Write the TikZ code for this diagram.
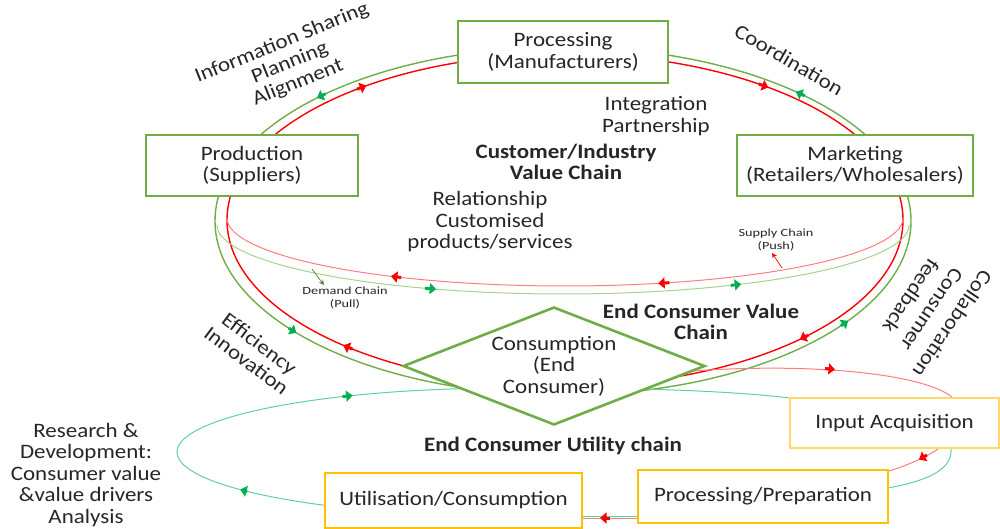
\documentclass[tikz,border=0pt]{standalone}
\usepackage{fontspec}
\setmainfont{Carlito}[FakeStretch=1.12]
\newfontfamily\smallf{Carlito}[FakeStretch=1.3]
\usetikzlibrary{arrows.meta,shapes.geometric}
\definecolor{gbox}{HTML}{70AD47}
\definecolor{ybox}{HTML}{FFC000}
\definecolor{ylight}{HTML}{FFD966}
\definecolor{redl}{HTML}{FF0000}
\definecolor{redpale}{HTML}{FF7C80}
\definecolor{greenpale}{HTML}{A9D18E}
\definecolor{mint}{HTML}{5ED29A}
\definecolor{gmark}{HTML}{00B050}
\definecolor{txt}{HTML}{262626}
\definecolor{olive}{HTML}{548235}
\begin{document}
\begin{tikzpicture}[x=1pt,y=-1pt,
  every node/.style={text=txt, font=\fontsize{20.5}{21.5}\selectfont, align=center},
  gbx/.style={draw=gbox, line width=2.6pt, fill=white, inner sep=0pt},
  ybx/.style={draw=ybox, line width=2.6pt, fill=white, inner sep=0pt},
  mk/.style={-{Triangle[length=6.5pt,width=11pt]}, line width=3pt},
  smallarr/.style={-{Stealth[length=5pt,width=5pt]}, line width=0.7pt},
  lbl/.style={inner sep=0pt},
  boldtxt/.style={font=\fontsize{20.5}{21.5}\selectfont\bfseries},
  tinytxt/.style={font=\smallf\fontsize{11}{13}\selectfont},
]
\useasboundingbox (0,0) rectangle (1000,528);

% main value-chain ellipses
\draw[gbox, line width=1.4pt] (563,221) ellipse [x radius=348, y radius=174];
\draw[redl, line width=1.4pt] (565,220) ellipse [x radius=338, y radius=166];

% inner lower arcs (supply / demand chain)
\draw[redpale, line width=1pt] plot[domain=180:360, samples=120] ({565+338*cos(\x)},{218-68*sin(\x)});
\draw[greenpale, line width=1pt] plot[domain=180:360, samples=120] ({563+346*cos(\x)},{225-69*sin(\x)});

% arrow markers on red ellipse (clockwise)
\draw[mk, redl] ({565+338*cos(128)},{220-166*sin(128)}) -- ({565+338*cos(126)},{220-166*sin(126)});
\draw[mk, redl] ({565+338*cos(55)},{220-166*sin(55)}) -- ({565+338*cos(53)},{220-166*sin(53)});
\draw[mk, redl] ({565+338*cos(316)},{220-166*sin(316)}) -- ({565+338*cos(314)},{220-166*sin(314)});
\draw[mk, redl] ({565+338*cos(231)},{220-166*sin(231)}) -- ({565+338*cos(229)},{220-166*sin(229)});
% arrow markers on green ellipse (counter-clockwise)
\draw[mk, gmark] ({563+348*cos(133)},{221-174*sin(133)}) -- ({563+348*cos(135)},{221-174*sin(135)});
\draw[mk, gmark] ({563+348*cos(46)},{221-174*sin(46)}) -- ({563+348*cos(48)},{221-174*sin(48)});
\draw[mk, gmark] ({563+348*cos(323)},{221-174*sin(323)}) -- ({563+348*cos(325)},{221-174*sin(325)});
\draw[mk, gmark] ({563+348*cos(218)},{221-174*sin(218)}) -- ({563+348*cos(220)},{221-174*sin(220)});
% markers on inner arcs
\draw[mk, redl] ({565+338*cos(241)},{218-68*sin(241)}) -- ({565+338*cos(239)},{218-68*sin(239)});
\draw[mk, redl] ({565+338*cos(288)},{218-68*sin(288)}) -- ({565+338*cos(286)},{218-68*sin(286)});
\draw[mk, gmark] ({563+346*cos(246.5)},{225-69*sin(246.5)}) -- ({563+346*cos(248.5)},{225-69*sin(248.5)});
\draw[mk, gmark] ({563+346*cos(299)},{225-69*sin(299)}) -- ({563+346*cos(301)},{225-69*sin(301)});

% small label pointers
\coordinate (dcA) at (312,269); \coordinate (dcB) at (324,285);
\coordinate (scA) at (782,268); \coordinate (scB) at (772,253);
\draw[smallarr, olive] (dcA) -- (dcB);
\draw[smallarr, redl] (scA) -- (scB);

% end consumer utility chain
\draw[mint, line width=1pt] plot[domain=90:236.4, samples=100] ({508+331*cos(\x)},{452-64*sin(\x)});
\draw[mint, line width=1pt] (508,388) .. controls (650,387) and (740,392) .. (790,398);
\draw[mk, gmark] ({508+331*cos(120)},{452-64*sin(120)}) -- ({508+331*cos(118)},{452-64*sin(118)});
\draw[mk, gmark] ({508+331*cos(218)},{452-64*sin(218)}) -- ({508+331*cos(216)},{452-64*sin(216)});

\draw[redpale, line width=1pt] (680,372) .. controls (800,362) and (920,372) .. (952,397);
\draw[mk, redl] (825,368.5) -- (835,369.5);
\draw[redpale, line width=1pt] (938,449) .. controls (925,458) and (905,466) .. (889,471);
\draw[mk, redl] (927,455) -- (919,459.5);
\draw[mint, line width=1pt] (951,449) .. controls (953,472) and (920,482) .. (888,488);
\draw[mint, line width=1pt] (638,516) -- (582,516);
\draw[redpale, line width=1pt] (638,518) -- (582,518);
\draw[mk, redl] (610,518) -- (600,518);

% boxes
\node[gbx, minimum width=210pt, minimum height=62pt] (proc) at (563,52) {Processing\\(Manufacturers)};
\node[gbx, minimum width=212pt, minimum height=61pt] (prod) at (252,165.5) {Production\\(Suppliers)};
\node[gbx, minimum width=236pt, minimum height=61pt] (mkt) at (855,165.5) {Marketing\\(Retailers/Wholesalers)};
\node[draw=gbox, line width=2.6pt, fill=white, diamond, aspect=2.56, inner sep=0pt,
      minimum width=302pt, minimum height=118pt] (cons) at (554,366) {Consumption\\(End\\Consumer)};
\node[draw=ylight, line width=2.6pt, fill=white, inner sep=0pt, minimum width=209pt, minimum height=50pt] (ia) at (894.5,423) {Input Acquisition};
\node[ybx, minimum width=250pt, minimum height=53pt] (pp) at (763,496.5) {Processing/Preparation};
\node[ybx, minimum width=257pt, minimum height=55pt] (util) at (453.5,500.5) {Utilisation/Consumption};

% labels
\node[lbl, rotate=22] (l1) at (290,63) {Information Sharing\\Planning\\Alignment};
\node[lbl, rotate=-30] (l2) at (789,60) {Coordination};
\node[lbl] (l3) at (656,116) {Integration\\Partnership};
\node[lbl, boldtxt] (l4) at (566,162) {Customer/Industry\\Value Chain};
\node[lbl] (l5) at (490,222) {Relationship\\Customised\\products/services};
\node[lbl, tinytxt] (l6) at (776,240) {Supply Chain\\(Push)};
\node[lbl, tinytxt] (l7) at (345,298) {Demand Chain\\(Pull)};
\node[lbl, boldtxt] (l8) at (701,322) {End Consumer Value\\Chain};
\node[lbl, rotate=-124, font=\fontsize{20.5}{25}\selectfont] (l9) at (932,310) {Collaboration\\Consumer\\feedback};
\node[lbl, rotate=-37] (l10) at (253,352) {Efficiency\\Innovation};
\node[lbl] (l11) at (86,475) {Research \&\\Development:\\Consumer value\\\&value drivers\\Analysis};
\node[lbl, boldtxt] (l12) at (553,446) {End Consumer Utility chain};
\end{tikzpicture}
\end{document}
